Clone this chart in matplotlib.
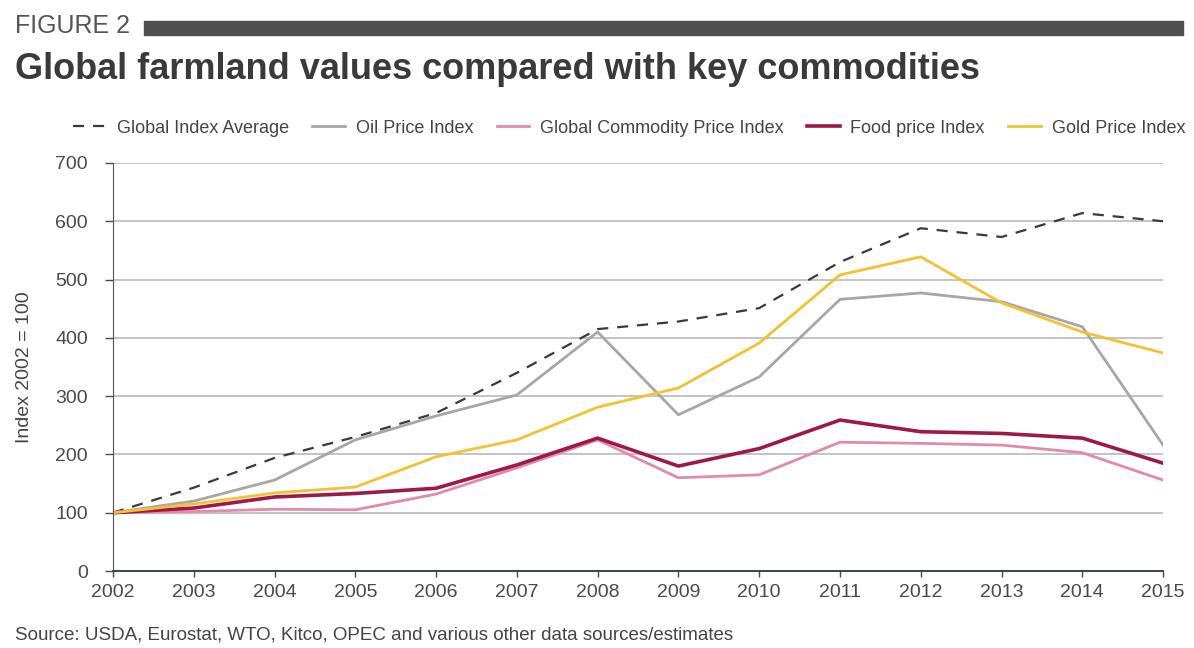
import matplotlib
matplotlib.use('Agg')
import matplotlib.pyplot as plt
from matplotlib.patches import Rectangle

plt.rcParams['font.family'] = ['Liberation Sans', 'DejaVu Sans']

years = list(range(2002, 2016))

# index values, 2002 = 100
global_avg = [100, 143, 194, 230, 271, 340, 415, 428, 451, 530, 588, 573, 614, 600]
oil = [100, 120, 156, 225, 266, 302, 410, 268, 333, 466, 477, 462, 419, 216]
commodity = [100, 102, 106, 105, 132, 177, 225, 160, 165, 221, 219, 216, 203, 156]
food = [100, 108, 127, 133, 142, 182, 228, 180, 210, 259, 239, 236, 228, 185]
gold = [100, 115, 134, 144, 196, 225, 281, 314, 391, 508, 539, 460, 410, 374]

series = [
    ('Global Index Average', global_avg, '#3a3a3a', 1.6, (0, (5, 4))),
    ('Oil Price Index', oil, '#a8a6a6', 2.0, '-'),
    ('Global Commodity Price Index', commodity, '#e48aa8', 2.0, '-'),
    ('Food price Index', food, '#a01848', 2.6, '-'),
    ('Gold Price Index', gold, '#f2c230', 2.0, '-'),
]

fig = plt.figure(figsize=(11.94, 6.48), dpi=100)
ax = fig.add_axes([0.0946, 0.1188, 0.8795, 0.6297])

for label, vals, color, lw, ls in series:
    ax.plot(years, vals, color=color, lw=lw, linestyle=ls, label=label)

ax.set_xlim(2002, 2015)
ax.set_ylim(0, 700)
ax.set_xticks(years)
ax.set_yticks(range(0, 701, 100))
ax.yaxis.grid(True, color='#c4c4c4', lw=1.4)
ax.set_axisbelow(True)
ax.tick_params(axis='both', labelsize=14, colors='#4a4a4a', length=6, width=1)
ax.tick_params(axis='y', pad=12)
ax.tick_params(axis='x', pad=5, length=4)
for s in ['top', 'right']:
    ax.spines[s].set_visible(False)
ax.spines['left'].set_color('#555555')
ax.spines['bottom'].set_color('#3d4a40')
ax.spines['bottom'].set_linewidth(1.4)
ax.set_ylabel('Index 2002 = 100', fontsize=14, color='#444444', labelpad=16)

fig.legend(loc='center', bbox_to_anchor=(0.527, 0.802), ncol=5, frameon=False,
           fontsize=13, handlelength=1.8, handletextpad=0.6, columnspacing=1.3,
           labelcolor='#444444')

# header
fig.text(0.0126, 0.96, 'FIGURE 2', fontsize=18, color='#555555', va='center')
fig.patches.append(Rectangle((0.121, 0.946), 0.870, 0.021, transform=fig.transFigure,
                             color='#505050', zorder=0))
fig.text(0.0126, 0.893, 'Global farmland values compared with key commodities',
         fontsize=26, fontweight='bold', color='#3a3a3a', va='center')

fig.text(0.0126, 0.02, 'Source: USDA, Eurostat, WTO, Kitco, OPEC and various other data sources/estimates',
         fontsize=13.5, color='#444444', va='center')

fig.savefig('out.png', dpi=100, facecolor='white')
